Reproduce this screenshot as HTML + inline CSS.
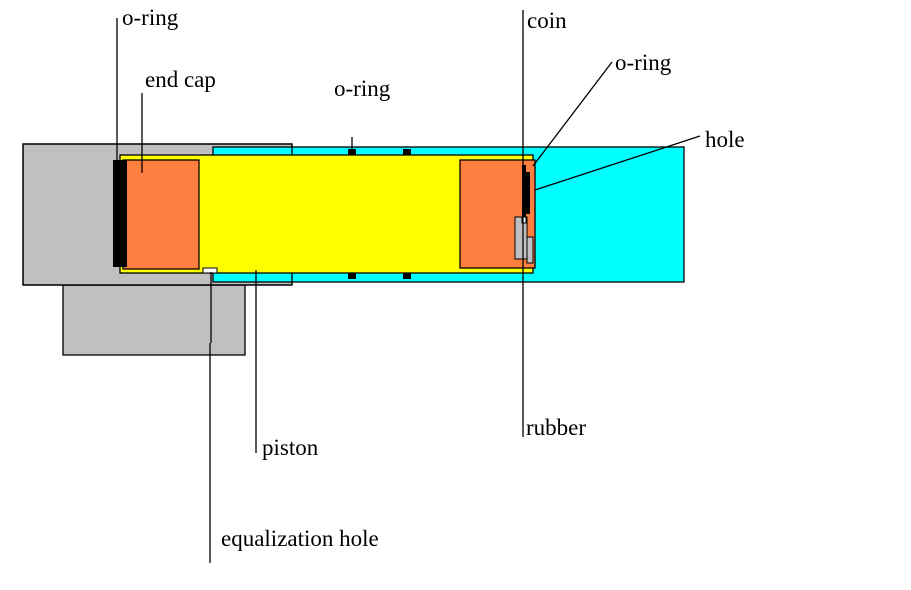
<!DOCTYPE html>
<html><head><style>html,body{margin:0;padding:0;background:#fff;}svg{display:block}</style></head>
<body>
<svg width="911" height="590" xmlns="http://www.w3.org/2000/svg" font-family="Liberation Serif, serif" font-size="23">
<rect x="0" y="0" width="911" height="590" fill="#fff"/>
<rect x="63" y="285" width="182" height="70" fill="#c0c0c0" stroke="#000" stroke-width="1.3"/>
<rect x="23" y="144" width="269" height="141" fill="#c0c0c0" stroke="#000" stroke-width="1.3"/>
<rect x="213" y="147" width="471" height="135" fill="#00ffff" stroke="#000" stroke-width="1.3"/>
<rect x="23" y="144" width="269" height="141" fill="none" stroke="#000" stroke-width="1.3"/>
<rect x="120" y="155" width="413" height="118" fill="#ffff00" stroke="#000" stroke-width="1.3"/>
<rect x="123" y="160" width="76" height="109" fill="#ff7f40" stroke="#000" stroke-width="1.3"/>
<rect x="113" y="160" width="14" height="107" fill="#000"/>
<rect x="203" y="268" width="14" height="5" fill="#fff" stroke="#000" stroke-width="1"/>
<rect x="460" y="160" width="75" height="108" fill="#ff7f40" stroke="#000" stroke-width="1.3"/>
<rect x="348" y="149" width="8" height="6" fill="#000"/>
<rect x="403" y="149" width="8" height="6" fill="#000"/>
<rect x="348" y="273" width="8" height="6" fill="#000"/>
<rect x="403" y="273" width="8" height="6" fill="#000"/>
<rect x="515" y="217" width="12" height="42" fill="#c0c0c0" stroke="#000" stroke-width="1"/>
<rect x="527" y="237" width="6" height="26" fill="#c0c0c0" stroke="#000" stroke-width="1"/>
<rect x="522" y="165" width="4" height="52" fill="#000"/>
<rect x="526" y="172" width="4" height="42" fill="#000"/>
<rect x="522" y="217" width="4" height="6" fill="#fff" stroke="#000" stroke-width="1"/>
<g stroke="#000" stroke-width="1.3" fill="none">
<line x1="117" y1="18" x2="117" y2="160"/>
<line x1="142" y1="93" x2="142" y2="173"/>
<line x1="352" y1="137" x2="352" y2="149"/>
<line x1="523" y1="10" x2="523" y2="437"/>
<line x1="533" y1="166" x2="612" y2="62"/>
<line x1="535" y1="190" x2="700" y2="136"/>
<line x1="256" y1="270" x2="256" y2="453"/>
<line x1="211" y1="272" x2="211" y2="343"/>
<line x1="210" y1="343" x2="210" y2="563"/>
</g>
<g fill="#000">
<text x="122" y="25">o-ring</text>
<text x="145" y="87">end cap</text>
<text x="334" y="96">o-ring</text>
<text x="527" y="28">coin</text>
<text x="615" y="70">o-ring</text>
<text x="705" y="147">hole</text>
<text x="526" y="435">rubber</text>
<text x="262" y="455">piston</text>
<text x="221" y="546">equalization hole</text>
</g>
</svg>
</body></html>
